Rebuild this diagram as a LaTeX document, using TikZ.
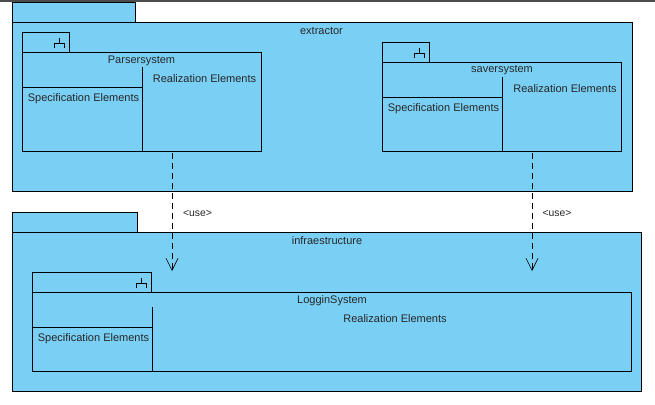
\documentclass[tikz,border=0pt]{standalone}
\usepackage{fontspec}
\setmainfont{Liberation Sans}
\usetikzlibrary{arrows.meta, positioning, calc}

\definecolor{pkgblue}{RGB}{122,207,245}

\tikzset{
  pkgbox/.style={draw=black, fill=pkgblue, line width=0.8pt, inner sep=0pt, outer sep=0pt, anchor=north west},
  pkgline/.style={draw=black, line width=0.8pt},
  pkgtext/.style={font=\fontsize{11}{12}\selectfont, inner sep=0pt, text=black!85},
  usearrow/.style={black, line width=0.8pt, dashed, dash pattern=on 6pt off 4pt, -{Straight Barb[length=12pt, width=12pt, line width=0.6pt]}},
  usetext/.style={font=\fontsize{10.4}{11}\selectfont, inner sep=0pt, text=black!85},
  forkicon/.pic={
    \draw[black, line width=0.7pt] (0,0) -- (0,5) (-5,10) -- (-5,5) -- (5,5) -- (5,10);
  }
}

\begin{document}
\begin{tikzpicture}[x=1pt, y=-1pt]
  \useasboundingbox (0,0) rectangle (655,404);

  % Top edge
  \fill[black!70] (0,0) rectangle (655,2);

  % Outer packages
  \node[pkgbox, minimum width=123pt, minimum height=20pt] (extractortab) at (12,2) {};
  \node[pkgbox, minimum width=620pt, minimum height=169pt] (extractor) at (12,22) {};
  \node[pkgbox, minimum width=125pt, minimum height=20pt] (infratab) at (12,212) {};
  \node[pkgbox, minimum width=629pt, minimum height=159pt] (infra) at (12,232) {};

  % Inner packages
  \node[pkgbox, minimum width=47pt, minimum height=20pt] (parsertab) at (22,32) {};
  \node[pkgbox, minimum width=239pt, minimum height=99pt] (parser) at (22,52) {};
  \node[pkgbox, minimum width=47pt, minimum height=20pt] (savertab) at (382,42) {};
  \node[pkgbox, minimum width=239pt, minimum height=89pt] (saver) at (382,62) {};
  \node[pkgbox, minimum width=119pt, minimum height=20pt] (loggintab) at (32,272) {};
  \node[pkgbox, minimum width=599pt, minimum height=79pt] (loggin) at (32,292) {};

  % Compartments
  \draw[pkgline] (142,67) -- (142,151) (22,87) -- (142,87);
  \draw[pkgline] (502,77) -- (502,151) (382,97) -- (502,97);
  \draw[pkgline] (152,307) -- (152,371) (32,327) -- (152,327);

  % Icons
  \pic at (59,38) {forkicon};
  \pic at (419,48) {forkicon};
  \pic at (141,278) {forkicon};

  % Names
  \foreach \name/\pos/\label in {extractorname/{321.5,30.5}/extractor, parsername/{141.5,60.5}/Parsersystem,
      savername/{502,70.5}/saversystem, infraname/{327,240.5}/infraestructure, logginname/{332,300.5}/LogginSystem} {
    \node[pkgtext] (\name) at (\pos) {\label};
  }

  % Compartment labels
  \foreach \name/\pos in {parserspec/{83.5,99}, saverspec/{443.5,109}, logginspec/{93.5,339}} {
    \node[pkgtext] (\name) at (\pos) {Specification Elements};
  }
  \foreach \name/\pos in {parserreal/{204.5,79}, saverreal/{565,89}, logginreal/{395,319}} {
    \node[pkgtext] (\name) at (\pos) {Realization Elements};
  }

  % Dependencies
  \coordinate (parserend) at (172,271);
  \coordinate (saverend) at (532,271);
  \draw[usearrow] ($(parser.south -| parserend)+(0,2)$) -- (parserend);
  \draw[usearrow] ($(saver.south -| saverend)+(0,2)$) -- (saverend);
  \node[usetext] (parseruse) at (197.5,213.5) {<use>};
  \node[usetext] (saveruse) at (557,213.5) {<use>};
\end{tikzpicture}
\end{document}
